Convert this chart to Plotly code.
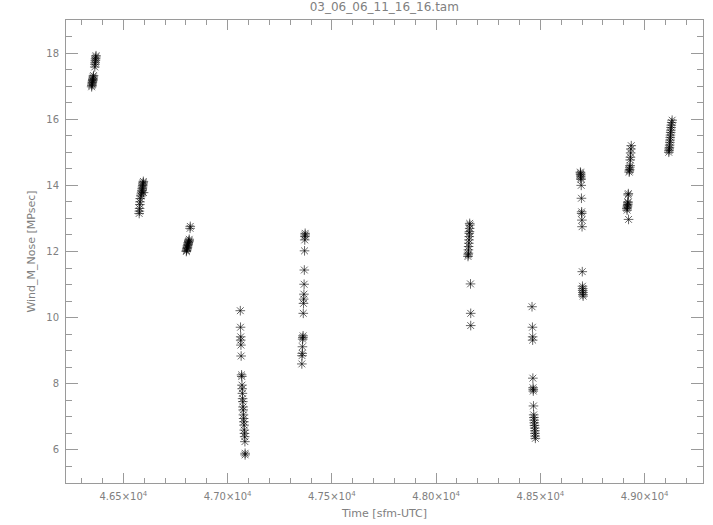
import plotly.graph_objects as go

title_text = "03_06_06_11_16_16.tam"
x_title = "Time [sfm-UTC]"
y_title = "Wind_M_Nose [MPsec]"

x_tick_vals = [46500, 47000, 47500, 48000, 48500, 49000]
x_tick_text = ["4.65×10<sup>4</sup>", "4.70×10<sup>4</sup>", "4.75×10<sup>4</sup>",
               "4.80×10<sup>4</sup>", "4.85×10<sup>4</sup>", "4.90×10<sup>4</sup>"]
y_tick_vals = [6, 8, 10, 12, 14, 16, 18]

# cluster 1
t1 = [46348, 46349, 46350, 46351, 46352, 46353, 46354, 46355, 46356, 46357,
      46363, 46364, 46365, 46366, 46367, 46368, 46369]
v1 = [16.98, 17.02, 17.06, 17.1, 17.13, 17.17, 17.2, 17.24, 17.28, 17.32,
      17.58, 17.66, 17.72, 17.78, 17.83, 17.88, 17.92]
# cluster 2
t2 = [46576, 46577, 46578, 46579, 46580, 46581, 46584, 46586, 46588, 46590,
      46591, 46592, 46593, 46594, 46595, 46596, 46597]
v2 = [13.15, 13.22, 13.3, 13.42, 13.5, 13.6, 13.68, 13.74, 13.8, 13.85,
      13.9, 13.95, 14.0, 14.04, 14.08, 14.12, 13.78]
# cluster 3
t3 = [46802, 46803, 46804, 46806, 46807, 46808, 46810, 46811, 46812, 46814,
      46815, 46816, 46820, 46821]
v3 = [12.0, 12.03, 12.07, 12.1, 12.13, 12.17, 12.2, 12.23, 12.27, 12.3,
      12.33, 12.37, 12.7, 12.76]
# cluster 4
t4 = [47061, 47062, 47063, 47063, 47064, 47065, 47067, 47068, 47069, 47070,
      47071, 47072, 47073, 47074, 47075, 47076, 47077, 47078, 47079, 47080,
      47081, 47082, 47083, 47084, 47084]
v4 = [10.21, 9.71, 9.42, 9.32, 9.17, 8.84, 8.27, 8.22, 7.96, 7.85,
      7.71, 7.55, 7.46, 7.3, 7.21, 7.06, 6.95, 6.85, 6.75, 6.6,
      6.5, 6.4, 6.25, 5.9, 5.85]
# cluster 5
t5 = [47356, 47357, 47358, 47359, 47360, 47361, 47362, 47363, 47364, 47365,
      47366, 47367, 47368, 47369, 47370, 47371, 47372, 47372]
v5 = [8.6, 8.85, 8.92, 9.12, 9.35, 9.4, 9.45, 10.13, 10.43, 10.56,
      10.71, 11.01, 11.44, 12.02, 12.35, 12.45, 12.5, 12.55]
# cluster 6
t6 = [48153, 48154, 48155, 48155, 48156, 48157, 48158, 48159, 48159, 48160,
      48161, 48162, 48161, 48165, 48166, 48166]
v6 = [11.85, 11.9, 11.95, 12.05, 12.15, 12.25, 12.35, 12.45, 12.55, 12.6,
      12.7, 12.8, 12.85, 11.02, 10.13, 9.76]
# cluster 7
t7 = [48460, 48462, 48463, 48463, 48464, 48465, 48466, 48466, 48467, 48468,
      48469, 48470, 48471, 48472, 48473, 48474, 48474, 48475, 48476]
v7 = [10.33, 9.71, 9.42, 9.32, 8.17, 7.88, 7.83, 7.78, 7.33, 7.06,
      6.98, 6.9, 6.82, 6.74, 6.66, 6.58, 6.5, 6.42, 6.35]
# cluster 8
t8 = [48692, 48693, 48693, 48694, 48694, 48695, 48696, 48697, 48698, 48698,
      48699, 48700, 48701, 48702, 48703, 48703, 48704, 48704, 48705]
v8 = [14.4, 14.37, 14.33, 14.28, 14.22, 14.18, 14.0, 13.61, 13.2, 13.15,
      12.95, 12.75, 11.39, 10.95, 10.88, 10.82, 10.76, 10.7, 10.65]
# cluster 9
t9 = [48915, 48916, 48917, 48918, 48919, 48920, 48920, 48921, 48922, 48923,
      48926, 48927, 48928, 48929, 48930, 48931, 48932, 48933, 48934, 48936]
v9 = [13.3, 13.25, 13.34, 13.38, 13.42, 13.47, 13.5, 13.71, 13.75, 12.97,
      14.4, 14.44, 14.48, 14.55, 14.6, 14.77, 14.85, 14.98, 15.1, 15.2]
# cluster 10
t10 = [49116, 49117, 49118, 49119, 49120, 49121, 49122, 49123, 49124, 49125,
       49126, 49127, 49128, 49130, 49132]
v10 = [15.0, 15.05, 15.1, 15.15, 15.22, 15.3, 15.37, 15.45, 15.52, 15.6,
       15.67, 15.75, 15.82, 15.9, 15.97]

times = t1 + t2 + t3 + t4 + t5 + t6 + t7 + t8 + t9 + t10
winds = v1 + v2 + v3 + v4 + v5 + v6 + v7 + v8 + v9 + v10

fig = go.Figure()
fig.add_trace(go.Scatter(
    x=times, y=winds, mode="markers",
    marker=dict(symbol="asterisk-open", size=8, color="rgba(0,0,0,0.6)",
                line=dict(width=1, color="rgba(0,0,0,0.6)")),
    showlegend=False,
))

font_family = "DejaVu Sans"
gray = "#808080"
axis_common = dict(
    showgrid=False, zeroline=False, showline=True, linecolor="#9a9a9a", linewidth=1,
    mirror="allticks", ticks="inside", tickcolor="#9a9a9a", tickwidth=1,
    tickfont=dict(family=font_family, size=10, color=gray), automargin=False,
)

fig.update_layout(
    width=713, height=525,
    margin=dict(l=66, r=10, t=20, b=42, autoexpand=False),
    paper_bgcolor="white", plot_bgcolor="white",
    title=dict(text=title_text, x=0.539, xanchor="center", y=0.996, yanchor="top",
               font=dict(family=font_family, size=12, color=gray)),
    xaxis=dict(**axis_common, range=[46225, 49280], tickvals=x_tick_vals,
               ticktext=x_tick_text, ticklen=10, ticklabelstandoff=4,
               minor=dict(ticks="inside", dtick=100, tick0=46500, ticklen=5, tickcolor="#9a9a9a"),
               title=dict(text=x_title, standoff=8,
                          font=dict(family=font_family, size=11, color=gray))),
    yaxis=dict(**axis_common, range=[5, 19], tickvals=y_tick_vals, ticklen=12,
               ticklabelstandoff=4,
               minor=dict(ticks="inside", dtick=0.5, tick0=5, ticklen=6, tickcolor="#9a9a9a"),
               title=dict(text=y_title, standoff=8,
                          font=dict(family=font_family, size=11, color=gray))),
)

fig.write_html("out.html", config={"displayModeBar": False},
               post_script="document.body.style.margin='0';")
